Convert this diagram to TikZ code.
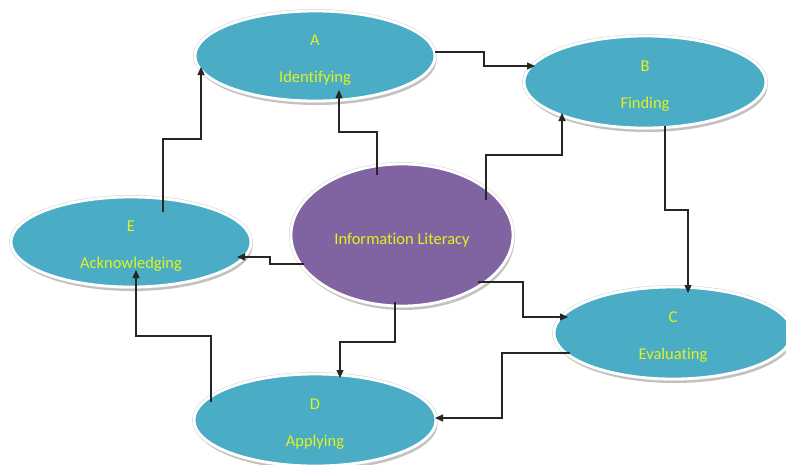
\documentclass[tikz,border=0pt]{standalone}
\usepackage{fontspec}
\setmainfont{Carlito}[Ligatures=NoCommon]
\usetikzlibrary{shapes.geometric,arrows.meta,shadows}
\definecolor{aqua}{RGB}{75,172,198}
\definecolor{lilac}{RGB}{128,100,162}
\definecolor{lbl}{RGB}{226,242,30}

\begin{document}
\begin{tikzpicture}[x=1pt,y=-1pt,
  bubble/.style={ellipse, inner sep=0pt, fill=aqua,
    drop shadow={shadow xshift=1.5pt, shadow yshift=-4pt, fill=black!30, opacity=0.8},
    preaction={draw=black!18, line width=3.8pt},
    draw=white, line width=2.8pt,
    font=\fontsize{16.5}{19}\selectfont, text=lbl, align=center},
  conn/.style={draw=black!85, line width=1.1pt, -{Triangle[length=8pt,width=7pt]}}]

\useasboundingbox (0,0) rectangle (786,464);

% stages of the cycle
\node[bubble, minimum width=240pt, minimum height=90pt] (A) at (315,56)
  {\rule{0pt}{19pt}A\\[18pt]Identifying};
\node[bubble, minimum width=242pt, minimum height=92pt] (B) at (645,82)
  {\rule{0pt}{19pt}B\\[18pt]Finding};
\node[bubble, minimum width=238pt, minimum height=92pt] (C) at (673,333)
  {\rule{0pt}{19pt}C\\[18pt]Evaluating};
\node[bubble, minimum width=242pt, minimum height=92pt] (D) at (315,420)
  {\rule{0pt}{19pt}D\\[18pt]Applying};
\node[bubble, minimum width=240pt, minimum height=90pt] (E) at (131,242)
  {\rule{0pt}{19pt}E\\[18pt]Acknowledging};

% central concept
\node[bubble, fill=lilac, minimum width=222pt, minimum height=142pt] (L) at (402,235)
  {\rule{0pt}{21pt}Information Literacy};

% cycle A -> B -> C -> D -> E -> A
\draw[conn] ([shift={(120,-4)}]A.center) -- ++(49,0) |- ([shift={(-110,-16)}]B.center);
\draw[conn] ([shift={(20,44)}]B.center) -- ++(0,84) -| ([shift={(15,-40)}]C.center);
\draw[conn] ([shift={(-103,20)}]C.center) -- ++(-68,0) |- ([shift={(120,-2)}]D.center);
\draw[conn] ([shift={(-104,-18)}]D.center) -- ++(0,-66) -| ([shift={(5,28)}]E.center);
\draw[conn] ([shift={(32,-30)}]E.center) -- ++(0,-73) -| ([shift={(-114,11)}]A.center);

% centre to every stage
\draw[conn] ([shift={(-25,-60)}]L.center) -- ++(0,-43) -| ([shift={(24,34)}]A.center);
\draw[conn] ([shift={(84,-35)}]L.center) -- ++(0,-45) -| ([shift={(-83,31)}]B.center);
\draw[conn] ([shift={(76,47)}]L.center) -- ++(45,0) |- ([shift={(-105,-16)}]C.center);
\draw[conn] ([shift={(-7,67)}]L.center) -- ++(0,40) -| ([shift={(25,-42)}]D.center);
\draw[conn] ([shift={(-98,29)}]L.center) -- ++(-34,0) |- ([shift={(106,15)}]E.center);
\end{tikzpicture}
\end{document}
